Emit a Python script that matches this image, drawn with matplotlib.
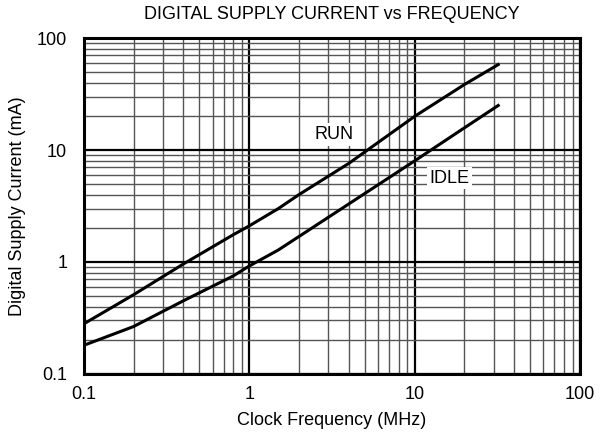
import matplotlib
matplotlib.use('Agg')
import matplotlib.pyplot as plt
from matplotlib.ticker import FixedLocator, FixedFormatter, LogLocator, NullFormatter

plt.rcParams['font.family'] = ['Liberation Sans', 'DejaVu Sans']

freq_mhz = [0.1, 0.2, 0.4, 0.8, 1, 1.5, 2, 4, 10, 20, 32]
run_ma = [0.28, 0.51, 0.96, 1.75, 2.1, 3.0, 4.0, 7.6, 20, 38.5, 58]
idle_ma = [0.18, 0.265, 0.45, 0.75, 0.92, 1.28, 1.69, 3.3, 8.0, 15.8, 25]

tick_vals = [0.1, 1, 10, 100]
tick_labels = ['0.1', '1', '10', '100']

fig = plt.figure(figsize=(6.03, 4.43), dpi=100)
ax = fig.add_axes([0.139, 0.156, 0.823, 0.758])
ax.set_xscale('log')
ax.set_yscale('log')
ax.set_xlim(0.1, 100)
ax.set_ylim(0.1, 100)

ax.xaxis.set_major_locator(FixedLocator(tick_vals))
ax.xaxis.set_major_formatter(FixedFormatter(tick_labels))
ax.yaxis.set_major_locator(FixedLocator(tick_vals))
ax.yaxis.set_major_formatter(FixedFormatter(tick_labels))
for axis in (ax.xaxis, ax.yaxis):
    axis.set_minor_locator(LogLocator(base=10, subs=range(2, 10)))
    axis.set_minor_formatter(NullFormatter())

ax.grid(True, which='major', color='black', linewidth=1.6)
ax.grid(True, which='minor', color='#555555', linewidth=1.0)
ax.tick_params(which='both', length=0, labelsize=13)
ax.tick_params(axis='x', pad=9)
ax.tick_params(axis='y', pad=12)
for s in ax.spines.values():
    s.set_linewidth(2.2)

ax.plot(freq_mhz, run_ma, color='black', linewidth=2.2)
ax.plot(freq_mhz, idle_ma, color='black', linewidth=2.2)

box = dict(facecolor='white', edgecolor='none', pad=2)
ax.text(3.25, 12.6, 'RUN', fontsize=13, ha='center', va='baseline', bbox=box)
ax.text(16.2, 5.1, 'IDLE', fontsize=13, ha='center', va='baseline', bbox=box)

ax.set_xlabel('Clock Frequency (MHz)', fontsize=13, labelpad=6)
ax.set_ylabel('Digital Supply Current (mA)', fontsize=13, labelpad=7.5)
ax.set_title('DIGITAL SUPPLY CURRENT vs FREQUENCY', fontsize=13, pad=14)

fig.savefig('out.png', dpi=100)
